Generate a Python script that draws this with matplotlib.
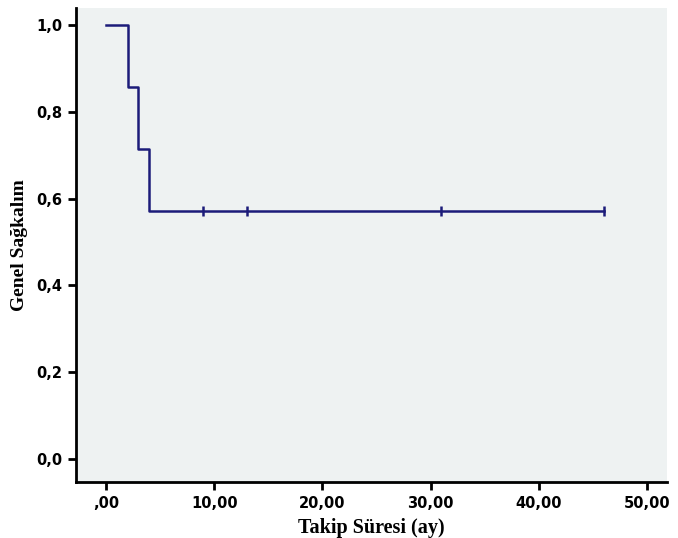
import numpy as np
import matplotlib.pyplot as plt

# survival step data (Kaplan-Meier)
times = [0, 2, 3, 4, 46]
surv = [1.0, 6 / 7, 5 / 7, 4 / 7, 4 / 7]
censor_times = [9, 13, 31, 46]
censor_surv = [4 / 7, 4 / 7, 4 / 7, 4 / 7]

x_ticks = [0, 10, 20, 30, 40, 50]
x_labels = [",00", "10,00", "20,00", "30,00", "40,00", "50,00"]
y_ticks = [0.0, 0.2, 0.4, 0.6, 0.8, 1.0]
y_labels = ["0,0", "0,2", "0,4", "0,6", "0,8", "1,0"]

fig = plt.figure(figsize=(6.78, 5.38), dpi=100)
ax = fig.add_axes([0.112, 0.104, 0.872, 0.881])
ax.set_facecolor("#eef2f2")

line_col = "#1c1c7a"
ax.step(times, surv, where="post", color=line_col, lw=1.8)
ax.plot(censor_times, censor_surv, "|", color=line_col, ms=7, mew=1.8)

ax.set_xlim(-2.77, 51.85)
ax.set_ylim(-0.053, 1.039)
ax.set_xticks(x_ticks)
ax.set_xticklabels(x_labels)
ax.set_yticks(y_ticks)
ax.set_yticklabels(y_labels)

for s in ["top", "right"]:
    ax.spines[s].set_visible(False)
for s in ["left", "bottom"]:
    ax.spines[s].set_linewidth(2)
    ax.spines[s].set_color("black")

ax.tick_params(axis="both", length=6, width=2, labelsize=10.5, pad=4)
for lab in ax.get_xticklabels() + ax.get_yticklabels():
    lab.set_fontweight("bold")
    lab.set_family("DejaVu Sans")

ax.set_xlabel("Takip Süresi (ay)", fontsize=14.5, fontweight="bold",
              family="Liberation Serif", labelpad=5)
ax.set_ylabel("Genel Sağkalım", fontsize=14, fontweight="bold",
              family="Liberation Serif", labelpad=6)

fig.savefig("out.png", dpi=100)
